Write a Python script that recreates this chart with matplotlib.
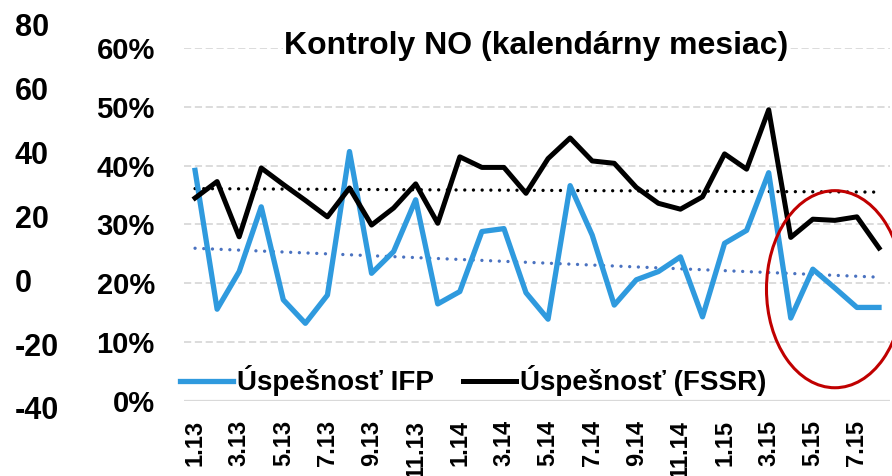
import numpy as np
import matplotlib.pyplot as plt
from matplotlib.patches import Ellipse

# mesiace 1.13 - 8.15
mesiace = ['1.13', '2.13', '3.13', '4.13', '5.13', '6.13', '7.13', '8.13',
           '9.13', '10.13', '11.13', '12.13', '1.14', '2.14', '3.14', '4.14',
           '5.14', '6.14', '7.14', '8.14', '9.14', '10.14', '11.14', '12.14',
           '1.15', '2.15', '3.15', '4.15', '5.15', '6.15', '7.15', '8.15']

# Úspešnosť v %
uspesnost_ifp = [39.2, 15.6, 22.0, 33.0, 17.2, 13.2, 18.0, 42.4,
                 21.7, 25.4, 34.2, 16.5, 18.6, 28.8, 29.3, 18.4,
                 13.9, 36.6, 28.2, 16.3, 20.6, 22.0, 24.5, 14.3,
                 26.8, 29.0, 38.8, 14.1, 22.4, 19.2, 15.9, 15.9]
uspesnost_fssr = [34.5, 37.3, 27.9, 39.6, 36.8, 34.1, 31.3, 36.2,
                  29.9, 32.8, 36.9, 30.2, 41.5, 39.7, 39.7, 35.3,
                  41.2, 44.7, 40.8, 40.4, 36.3, 33.6, 32.6, 34.7,
                  42.0, 39.4, 49.5, 27.8, 30.9, 30.7, 31.3, 26.0]

lavy_tick = [-40, -20, 0, 20, 40, 60, 80]
pct_tick = [0, 10, 20, 30, 40, 50, 60]

plt.rcParams['font.family'] = ['Liberation Sans', 'DejaVu Sans']
plt.rcParams['font.weight'] = 'bold'

modra = '#2f9ade'
x = np.arange(len(mesiace))
ifp = np.array(uspesnost_ifp) / 100
fssr = np.array(uspesnost_fssr) / 100

fig = plt.figure(figsize=(8.92, 4.76), dpi=100)
ax = fig.add_axes([0.2063, 0.1576, 0.7915, 0.7416])

# mriezka
for t in pct_tick[1:]:
    ax.axhline(t / 100, color='#d9d9d9', lw=1.3, ls=(0, (4, 2)), zorder=0)
ax.axhline(0, color='#d9d9d9', lw=1.6, zorder=0)

# trendy
for y, c in [(fssr, 'black'), (ifp, '#4a72c0')]:
    k, q = np.polyfit(x, y, 1)
    ax.plot(x, k * x + q, color=c, lw=2.4, ls=(0, (0.01, 2.6)),
            dash_capstyle='round', zorder=2)

ax.plot(x, ifp, color=modra, lw=3.8, label='Úspešnosť IFP', zorder=3)
ax.plot(x, fssr, color='black', lw=3.6, label='Úspešnosť (FSSR)', zorder=3)

ax.set_xlim(-0.5, len(mesiace) - 0.5)
ax.set_ylim(0, 0.6)
ax.set_xticks(x[::2])
ax.set_xticklabels(mesiace[::2], rotation=90, fontsize=17, fontweight='bold')
ax.set_yticks([t / 100 for t in pct_tick])
ax.set_yticklabels([f'{t}%' for t in pct_tick], fontsize=21, fontweight='bold')
ax.tick_params(axis='x', length=0, pad=13.5)
ax.tick_params(axis='y', length=0, pad=21)
for s in ax.spines.values():
    s.set_visible(False)

# červená elipsa
ax.add_patch(Ellipse((29.0, 0.19), 6.2, 0.335, fill=False, edgecolor='#c00000',
                     lw=2.2, clip_on=False, zorder=4))

# vonkajšia os
ax2 = fig.add_axes([0.0168, 0.1429, 0.001, 0.8046])
ax2.set_ylim(-40, 80)
ax2.set_yticks(lavy_tick)
ax2.set_yticklabels([str(t) for t in lavy_tick], fontsize=22, fontweight='bold', ha='left')
ax2.tick_params(axis='y', length=0, pad=0)
ax2.set_xticks([])
for s in ax2.spines.values():
    s.set_visible(False)
ax2.patch.set_visible(False)

fig.text(0.601, 0.903, 'Kontroly NO (kalendárny mesiac)', fontsize=23, fontweight='bold',
         ha='center', va='center',
         bbox=dict(facecolor='white', edgecolor='none', pad=1))

ax.legend(loc='center left', bbox_to_anchor=(180 / 892, 1 - 381 / 476),
          bbox_transform=fig.transFigure, ncol=2, frameon=False,
          borderpad=0, borderaxespad=0, handlelength=1.9, handletextpad=0.15,
          columnspacing=1.05, prop={'size': 20, 'weight': 'bold'})

plt.savefig('out.png', dpi=100)
